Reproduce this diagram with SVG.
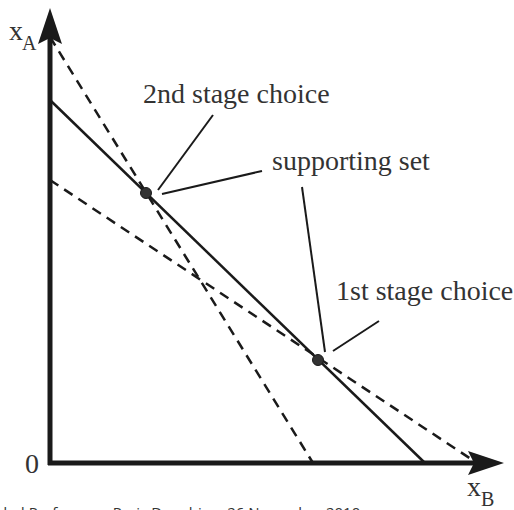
<svg xmlns="http://www.w3.org/2000/svg" width="514" height="510" viewBox="0 0 514 510">
<style>
.lbl{font-family:'Liberation Serif','Times New Roman','DejaVu Serif',serif;font-size:28px;fill:#333}
.sub{font-family:'Liberation Serif','Times New Roman','DejaVu Serif',serif;font-size:20px;fill:#333}
.solid{stroke:#1a1a1a;stroke-width:2.5;fill:none}
.dash{stroke:#1a1a1a;stroke-width:2.5;fill:none;stroke-dasharray:10,7}
.ptr{stroke:#1a1a1a;stroke-width:2;fill:none}
.axis{stroke:#1a1a1a;stroke-width:5;fill:none}
.foot{font-family:'Open Sans','DejaVu Sans',sans-serif;font-size:15px;fill:#333}
</style>
<rect width="514" height="510" fill="#fff"/>
<g id="axes">
<path class="axis" d="M50,465 V36 M48,463 H474"/>
<polygon points="50,8 62,44 50,38 38,44" fill="#1a1a1a"/>
<polygon points="504,463 468,451 474,463 468,475" fill="#1a1a1a"/>
</g>
<g id="budget-lines">
<path class="solid" d="M50,100 L425,463"/>
<path class="dash" d="M50,37 L313,463"/>
<path class="dash" d="M50,180 L474,461"/>
</g>
<g id="connectors">
<path class="ptr" d="M213,115 L158,190"/>
<path class="ptr" d="M262,171 L162,194"/>
<path class="ptr" d="M302,187 L325,352"/>
<path class="ptr" d="M379,321 L333,351"/>
</g>
<g id="choice-2nd"><circle cx="146" cy="193" r="5.5" fill="#333" stroke="#1a1a1a" stroke-width="1"/></g>
<g id="choice-1st"><circle cx="318" cy="360" r="5.5" fill="#333" stroke="#1a1a1a" stroke-width="1"/></g>
<g id="label-2nd"><text class="lbl" font-family="Liberation Serif, serif" x="143" y="103">2nd stage choice</text></g>
<g id="label-support"><text class="lbl" font-family="Liberation Serif, serif" x="272" y="170">supporting set</text></g>
<g id="label-1st"><text class="lbl" font-family="Liberation Serif, serif" x="336" y="300">1st stage choice</text></g>
<g id="label-xA"><text class="lbl" x="9" y="40">x</text><text class="sub" x="22" y="50">A</text></g>
<g id="label-xB"><text class="lbl" x="467" y="496">x</text><text class="sub" x="481" y="506">B</text></g>
<g id="label-0"><text class="lbl" x="25" y="473">0</text></g>
<text class="foot" x="-2" y="518">ded Preference, Paris Dauphine, 26 November 2010</text>
</svg>
